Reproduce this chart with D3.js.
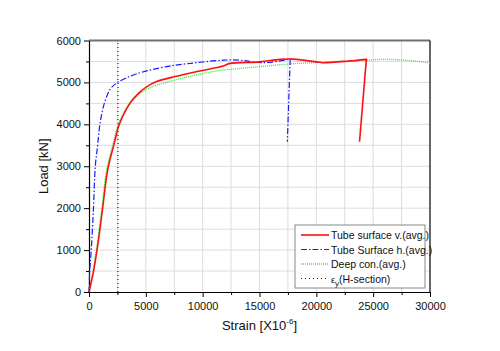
<!DOCTYPE html>
<head>
  <meta charset="utf-8">
  <script src="https://cdn.jsdelivr.net/npm/d3@7"></script>
  <style>
    body { margin: 0; background: #fff; }
    svg { display: block; font-family: 'Liberation Sans', Arial, sans-serif; }
  </style>
</head>
<body>
<div id=chart></div>
<script>
// strain [x10^-6], load [kN]; last point of the tube series is the unloading drop
const tube_v = [[0,0],[400,500],[760,1100],[1200,2000],[1640,2910],[2220,3545],[2670,4000],[3600,4500],[4400,4750],[5100,4900],[5900,5015],[7570,5140],[9500,5260],[11800,5390],[12400,5455],[15000,5490],[16800,5550],[17950,5555],[20300,5480],[20600,5470],[22700,5505],[24400,5550],[23800,3585]]
const tube_h = [[0,0],[60,500],[180,930],[380,1915],[555,3000],[760,3500],[960,4000],[1350,4500],[1900,4850],[2520,5000],[4140,5200],[6780,5375],[8150,5430],[11800,5530],[13300,5530],[15300,5470],[17700,5555],[17450,3585]]
const deep_con = [[0,0],[350,500],[700,1100],[1130,2000],[1550,2910],[2130,3545],[2580,4000],[3540,4500],[4400,4720],[5600,4900],[6780,5000],[8450,5120],[11800,5300],[12400,5310],[17700,5440],[24400,5530],[25900,5550],[27800,5530],[30000,5470]]
const eps_y = 2550
const x_ticks = [0, 5000, 10000, 15000, 20000, 25000, 30000]
const y_ticks = [0, 1000, 2000, 3000, 4000, 5000, 6000]
const legend_names = ['Tube surface v.(avg.)', 'Tube Surface h.(avg.)', 'Deep con.(avg.)', 'ε_y(H-section)']

const width = 500, height = 351
const margin = { left: 89, right: 70, top: 40.5, bottom: 59 }
const svg = d3.select('#chart').append('svg').attr('width', width).attr('height', height)

const x = d3.scaleLinear().domain([0, 30000]).range([margin.left, width - margin.right])
const y = d3.scaleLinear().domain([0, 6000]).range([height - margin.bottom, margin.top])

// grid
svg.append('g').selectAll().data(d3.range(2500, 30000, 2500)).join('line')
  .attr('x1', d => x(d)).attr('x2', d => x(d)).attr('y1', y(0)).attr('y2', y(6000))
  .attr('stroke', '#dcdcdc').attr('stroke-width', 1)
svg.append('g').selectAll().data(d3.range(500, 6000, 500)).join('line')
  .attr('x1', x(0)).attr('x2', x(30000)).attr('y1', d => y(d)).attr('y2', d => y(d))
  .attr('stroke', '#dcdcdc').attr('stroke-width', 1)

// frame top/right
svg.append('line').attr('x1', x(0)).attr('x2', x(30000)).attr('y1', y(6000)).attr('y2', y(6000))
  .attr('stroke', '#707070').attr('stroke-width', 2)
svg.append('line').attr('x1', x(30000)).attr('x2', x(30000)).attr('y1', y(6000)).attr('y2', y(0))
  .attr('stroke', '#000').attr('stroke-width', 1.2)

// axes
const style_axis = g => {
  g.select('.domain').attr('stroke', '#000').attr('stroke-width', 1.2)
  g.selectAll('.tick line').attr('stroke', '#000')
  g.selectAll('.tick text').attr('fill', '#111').attr('font-size', 11).attr('font-family', 'Liberation Sans, Arial, sans-serif')
}
svg.append('g').attr('transform', `translate(0,${y(0)})`)
  .call(d3.axisBottom(x).tickValues(d3.range(2500, 30000, 5000)).tickSize(3).tickFormat(''))
  .call(g => g.select('.domain').remove())
  .selectAll('.tick line').attr('stroke', '#000')
svg.append('g').attr('transform', `translate(${x(0)},0)`)
  .call(d3.axisLeft(y).tickValues(d3.range(500, 6000, 1000)).tickSize(3).tickFormat(''))
  .call(g => g.select('.domain').remove())
  .selectAll('.tick line').attr('stroke', '#000')
svg.append('g').attr('transform', `translate(0,${y(0)})`)
  .call(d3.axisBottom(x).tickValues(x_ticks).tickSize(5).tickSizeOuter(0).tickPadding(5).tickFormat(d3.format('d')))
  .call(style_axis)
svg.append('g').attr('transform', `translate(${x(0)},0)`)
  .call(d3.axisLeft(y).tickValues(y_ticks).tickSize(5).tickSizeOuter(0).tickPadding(3).tickFormat(d3.format('d')))
  .call(style_axis)

// axis titles
svg.append('text').attr('x', (x(0) + x(30000)) / 2).attr('y', 330).attr('text-anchor', 'middle')
  .attr('font-size', 13).attr('fill', '#111')
  .call(t => {
    t.append('tspan').text('Strain [X10')
    t.append('tspan').attr('font-size', 8).attr('dy', -6).text('-6')
    t.append('tspan').attr('dy', 6).text(']')
  })
svg.append('text').attr('transform', `translate(48,${(y(0) + y(6000)) / 2}) rotate(-90)`)
  .attr('text-anchor', 'middle').attr('font-size', 13).attr('fill', '#111').text('Load [kN]')

// series
const smooth = d3.line().x(d => x(d[0])).y(d => y(d[1])).curve(d3.curveCatmullRom.alpha(0.5))
const straight = d3.line().x(d => x(d[0])).y(d => y(d[1]))
// smooth loading branch, straight unloading drop
const with_drop = pts => smooth(pts.slice(0, -1)) + straight(pts.slice(-2)).replace(/^M/, 'L')
const plot = svg.append('g')
plot.append('line').attr('x1', x(eps_y)).attr('x2', x(eps_y)).attr('y1', y(0)).attr('y2', y(6000))
  .attr('stroke', '#222').attr('stroke-width', 1.2).attr('stroke-dasharray', '1 3')
plot.append('path').attr('d', smooth(deep_con)).attr('fill', 'none')
  .attr('stroke', '#33ee33').attr('stroke-width', 1.4).attr('stroke-dasharray', '1 1')
plot.append('path').attr('d', with_drop(tube_h)).attr('fill', 'none')
  .attr('stroke', '#1a1aff').attr('stroke-width', 1.2).attr('stroke-dasharray', '6 2 1.5 2')
plot.append('path').attr('d', with_drop(tube_v)).attr('fill', 'none')
  .attr('stroke', '#ff1010').attr('stroke-width', 1.6)

// legend
const lg = svg.append('g').attr('transform', 'translate(295,225)')
lg.append('rect').attr('width', 130).attr('height', 63).attr('fill', '#fff').attr('stroke', '#888')
const sample = [
  { stroke: '#ff1010', dash: null, w: 1.6 },
  { stroke: '#1a1aff', dash: '6 2 1.5 2', w: 1.2 },
  { stroke: '#33ee33', dash: '1 1', w: 1.4 },
  { stroke: '#222', dash: '1 3', w: 1.2 },
]
legend_names.forEach((name, i) => {
  const ly = 10 + i * 14.5
  lg.append('line').attr('x1', 6).attr('x2', 34).attr('y1', ly).attr('y2', ly)
    .attr('stroke', sample[i].stroke).attr('stroke-width', sample[i].w).attr('stroke-dasharray', sample[i].dash)
  const t = lg.append('text').attr('x', 36).attr('y', ly + 4).attr('font-size', 10.5).attr('fill', '#111')
  if (name.startsWith('ε_y')) {
    t.append('tspan').attr('font-size', 9).text('ε')
    t.append('tspan').attr('font-size', 8).attr('dy', 3).text('y')
    t.append('tspan').attr('dy', -3).text(name.slice(3))
  } else {
    t.text(name)
  }
})
</script>
</body>
